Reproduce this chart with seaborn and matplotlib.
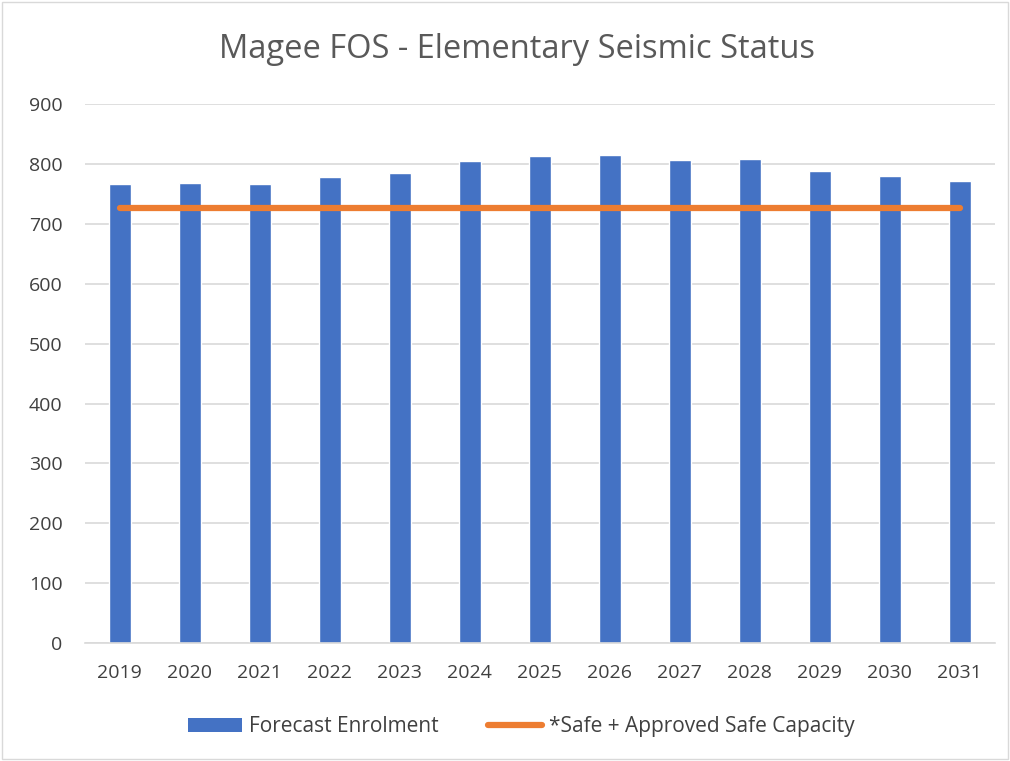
import pandas as pd
import matplotlib.pyplot as plt
import seaborn as sns
from matplotlib.lines import Line2D
from matplotlib.patches import Patch

years = [str(y) for y in range(2019, 2032)]
enrolment = [766, 768, 766, 778, 785, 805, 813, 815, 807, 808, 788, 780, 772]
capacity = [727] * len(years)

df = pd.DataFrame({"year": years, "enrolment": enrolment, "capacity": capacity})

sns.set_theme(style="white")
plt.rcParams['font.family'] = ['Open Sans', 'DejaVu Sans']

fig = plt.figure(figsize=(10.1, 7.61), dpi=100)
ax = fig.add_axes([0.084, 0.155, 0.901, 0.708])

sns.barplot(data=df, x="year", y="enrolment", color="#4472C4", width=0.32,
            saturation=1, ax=ax, zorder=2)
sns.lineplot(data=df, x="year", y="capacity", color="#ED7D31", linewidth=4.5,
             solid_capstyle="round", ax=ax, zorder=3)

ax.set_ylim(0, 900)
ax.set_yticks(range(0, 901, 100))
ax.set_xlim(-0.5, len(years) - 0.5)
ax.yaxis.grid(True, color="#D9D9D9", linewidth=1.2, zorder=0)
ax.set_axisbelow(True)
for s in ["top", "right", "left"]:
    ax.spines[s].set_visible(False)
ax.spines["bottom"].set_color("#D9D9D9")
ax.spines["bottom"].set_linewidth(1.2)
ax.tick_params(axis="both", length=0, labelsize=14, labelcolor="#404040")
ax.tick_params(axis="y", pad=16)
ax.tick_params(axis="x", pad=15)
ax.set_xlabel("")
ax.set_ylabel("")

fig.text(0.512, 0.935, "Magee FOS - Elementary Seismic Status", ha="center", va="center",
         fontsize=23.5, color="#595959")

handles = [Patch(facecolor="#4472C4", edgecolor="none"),
           Line2D([0], [0], color="#ED7D31", linewidth=4.5, solid_capstyle="round")]
fig.legend(handles, ["Forecast Enrolment", "*Safe + Approved Safe Capacity"],
           loc="center", bbox_to_anchor=(0.516, 0.045), ncol=2, frameon=False,
           fontsize=15, labelcolor="#404040", handlelength=2.6, handleheight=0.7,
           handletextpad=0.3, columnspacing=2.4)

border = plt.Rectangle((0.002, 0.002), 0.996, 0.996, transform=fig.transFigure,
                       fill=False, edgecolor="#D9D9D9", linewidth=1)
fig.patches.append(border)

fig.savefig("out.png", dpi=100)
